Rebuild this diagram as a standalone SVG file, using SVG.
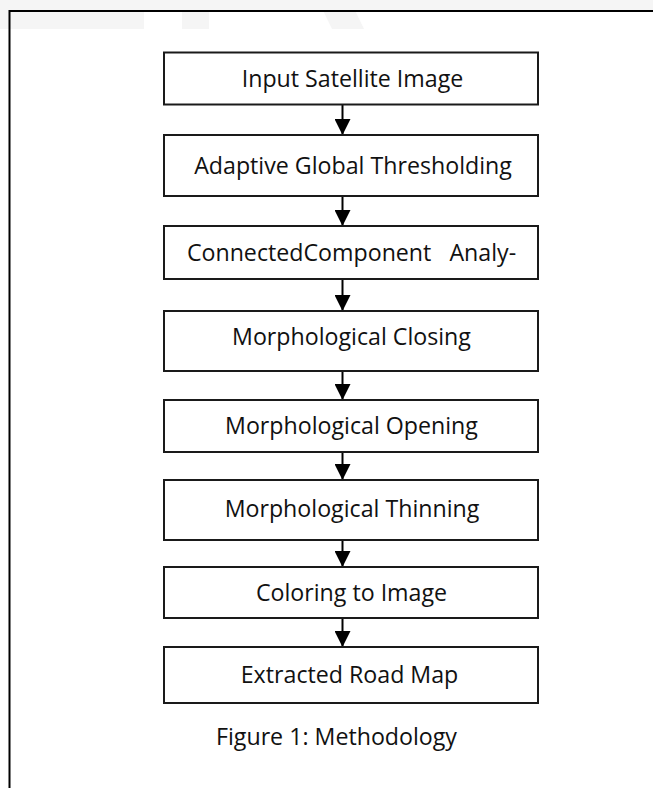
<svg xmlns="http://www.w3.org/2000/svg" width="653" height="788" viewBox="0 0 653 788">
<defs>
<marker id="ah" markerUnits="userSpaceOnUse" markerWidth="16" markerHeight="16" refX="16" refY="8" orient="auto">
<path d="M0,0 L16,8 L0,16 z" fill="#000"/>
</marker>
</defs>
<style>
.box{fill:#fff;stroke:#1a1a1a;stroke-width:2}
.lbl{font-family:"Open Sans","DejaVu Sans",sans-serif;font-size:23.2px;fill:#111;text-anchor:middle}
.con{stroke:#000;stroke-width:2;fill:none;marker-end:url(#ah)}
</style>
<rect width="653" height="788" fill="#fff"/>
<g id="watermark" fill="#f5f5f5">
<rect x="0" y="0" width="144" height="29"/>
<rect x="182" y="0" width="27" height="29"/>
<polygon points="318,0 350,0 364,29 332,29"/>
<rect x="144" y="0" width="509" height="10"/>
</g>
<g id="frame" stroke="#000" stroke-width="2" fill="none">
<path d="M9.5,788 V11 H653"/>
</g>
<g id="connectors">
<line class="con" x1="342.5" y1="104.5" x2="342.5" y2="135"/>
<line class="con" x1="342.5" y1="196" x2="342.5" y2="226"/>
<line class="con" x1="342.5" y1="279" x2="342.5" y2="311"/>
<line class="con" x1="342.5" y1="371" x2="342.5" y2="400"/>
<line class="con" x1="342.5" y1="452" x2="342.5" y2="480"/>
<line class="con" x1="342.5" y1="540" x2="342.5" y2="567"/>
<line class="con" x1="342.5" y1="618" x2="342.5" y2="647"/>
</g>
<g id="n1"><rect class="box" x="164" y="52.5" width="374" height="52"/><text class="lbl" x="352.5" y="87">Input Satellite Image</text></g>
<g id="n2"><rect class="box" x="164" y="135" width="374" height="61"/><text class="lbl" x="353" y="173.5">Adaptive Global Thresholding</text></g>
<g id="n3"><rect class="box" x="164" y="226" width="374" height="53"/><text class="lbl" x="351.5" y="260.5" xml:space="preserve">ConnectedComponent   Analy-</text></g>
<g id="n4"><rect class="box" x="164" y="311" width="374" height="60"/><text class="lbl" x="351.5" y="345">Morphological Closing</text></g>
<g id="n5"><rect class="box" x="164" y="400" width="374" height="52"/><text class="lbl" x="351.5" y="434">Morphological Opening</text></g>
<g id="n6"><rect class="box" x="164" y="480" width="374" height="60"/><text class="lbl" x="352" y="516.5">Morphological Thinning</text></g>
<g id="n7"><rect class="box" x="164" y="567" width="374" height="51"/><text class="lbl" x="351.5" y="601">Coloring to Image</text></g>
<g id="n8"><rect class="box" x="164" y="647" width="374" height="56"/><text class="lbl" x="349.5" y="683">Extracted Road Map</text></g>
<g id="caption"><text class="lbl" x="336.5" y="745">Figure 1: Methodology</text></g>
</svg>
